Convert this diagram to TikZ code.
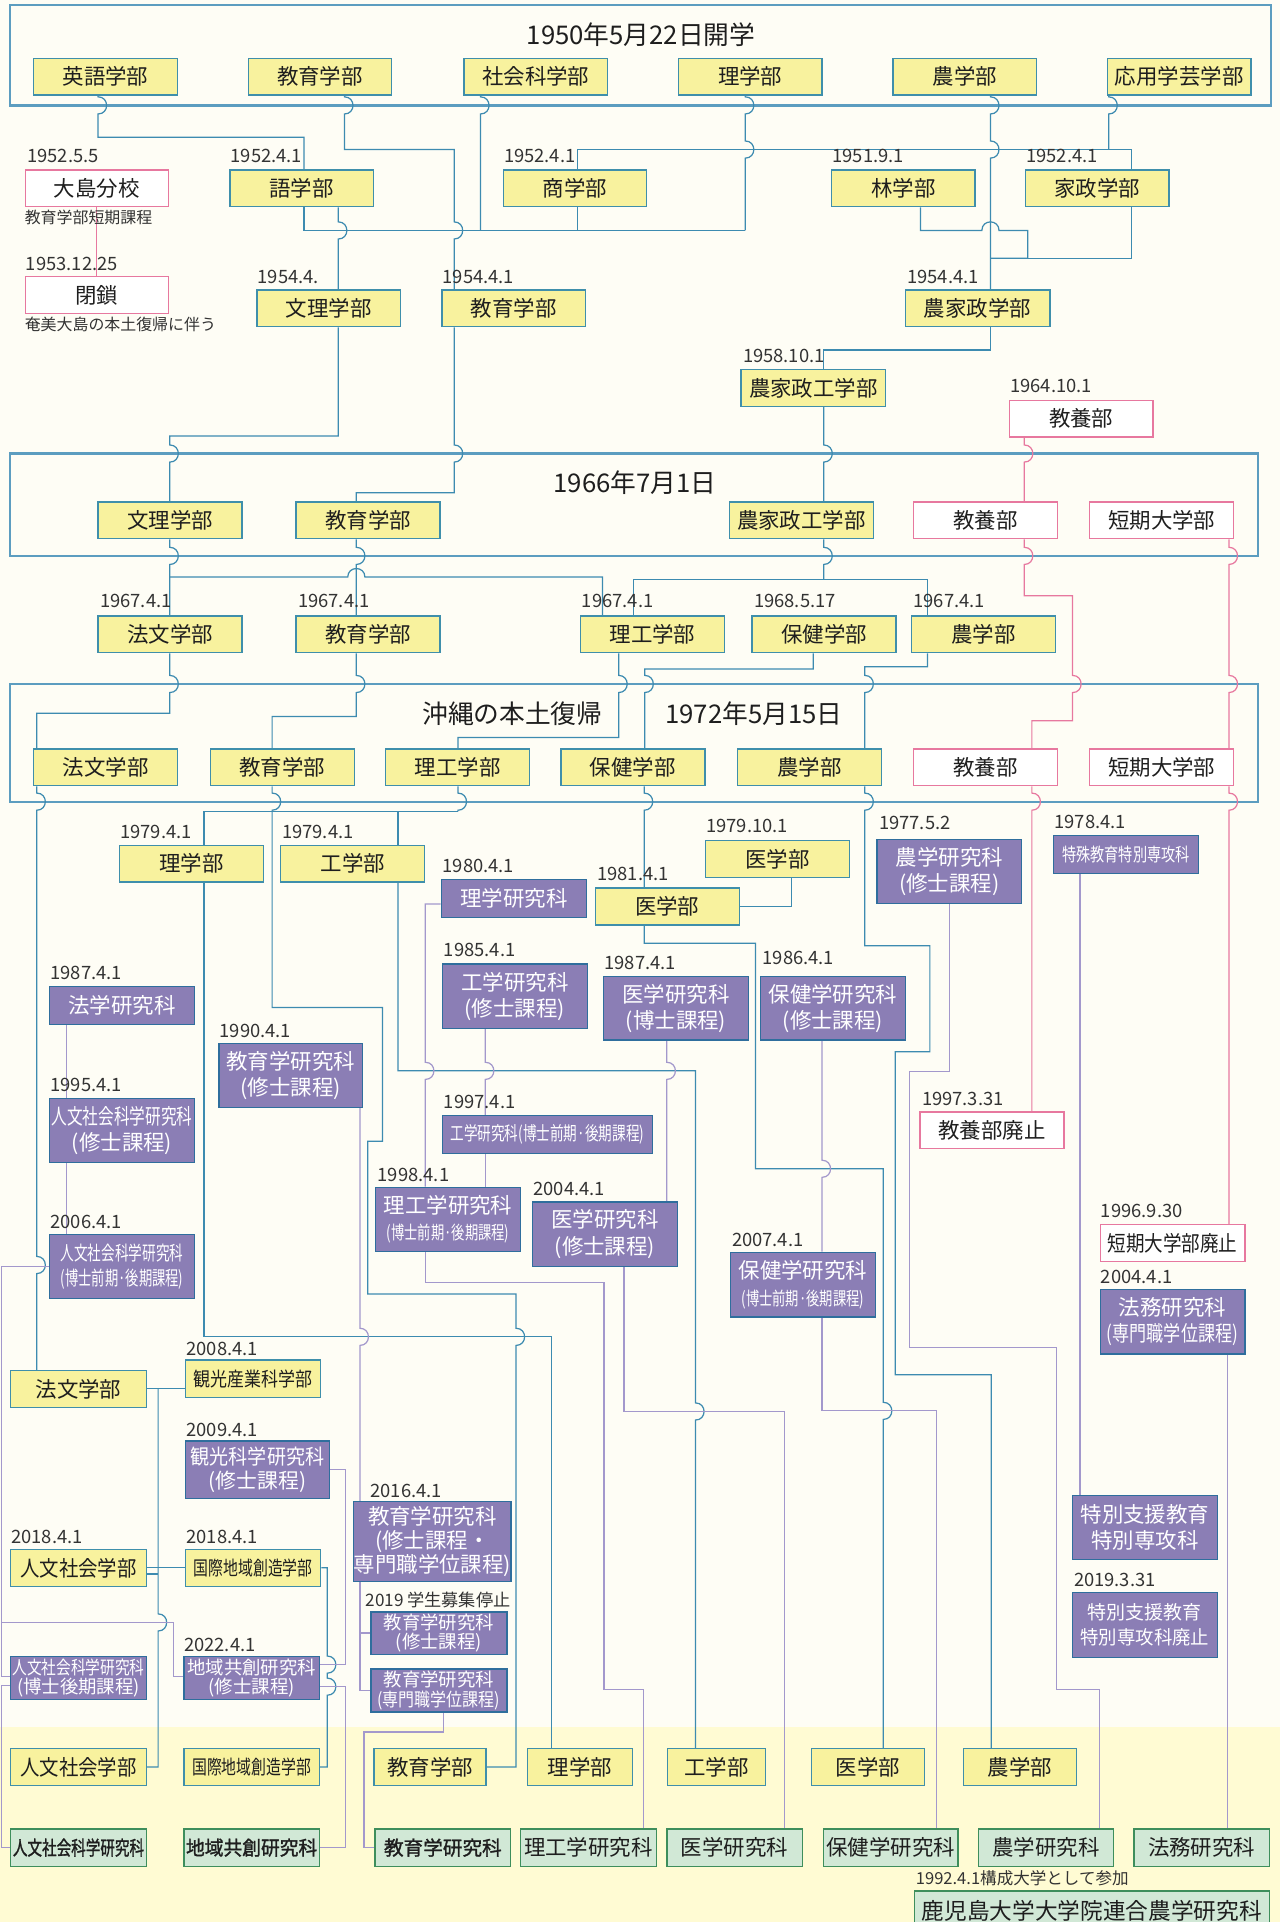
\documentclass[tikz,border=0pt]{standalone}
\usepackage{fontspec}
\usepackage{graphicx}
\setmainfont{Noto Sans CJK JP}
\newfontfamily\jpb[FakeBold=1.5]{Noto Sans CJK JP}
\pgfdeclarelayer{back}
\pgfdeclarelayer{mid}
\pgfsetlayers{back,mid,main}
\definecolor{bgc}{HTML}{FEFDF5}
\definecolor{bandc}{HTML}{FFFBD3}
\definecolor{framec}{HTML}{5C9DC0}
\definecolor{linec}{HTML}{3D8BB0}
\definecolor{yfill}{HTML}{F8F29E}
\definecolor{yborder}{HTML}{3F8FAB}
\definecolor{pfill}{HTML}{8B7EB5}
\definecolor{pborder}{HTML}{2F6E9D}
\definecolor{pinkc}{HTML}{E7789F}
\definecolor{plinec}{HTML}{A398CC}
\definecolor{gfill}{HTML}{D1E8D6}
\definecolor{gborder}{HTML}{3E8E5C}
\definecolor{txt}{HTML}{1E1E1E}
\newsavebox\fitbox
\newcommand\fitw[2]{\sbox\fitbox{#2}\ifdim\wd\fitbox>#1pt\relax\resizebox{#1pt}{\height}{\usebox\fitbox}\else\usebox\fitbox\fi}
\newcommand\VHop[2]{-- (#1,#2-7) .. controls (#1+9.3,#2-7) and (#1+9.3,#2+7) .. (#1,#2+7)}
\newcommand\HHop[2]{-- (#1-7,#2) .. controls (#1-7,#2-9.3) and (#1+7,#2-9.3) .. (#1+7,#2)}
\tikzset{
 bxs/.style={anchor=north west, inner sep=0pt, line width=1.1pt, align=center, text=txt, font=\fontsize{17.5}{21.5}\selectfont},
 yb/.style={bxs, fill=yfill, draw=yborder},
 pb/.style={bxs, fill=pfill, draw=pborder, text=white},
 kb/.style={bxs, fill=white, draw=pinkc},
 gb/.style={bxs, fill=gfill, draw=gborder},
 wh/.style 2 args={minimum width=#1pt, minimum height=#2pt},
 lab/.style={anchor=base west, inner sep=0pt, text=black!80, font=\fontsize{15}{15}\selectfont},
 note/.style={anchor=base west, inner sep=0pt, text=black!80, font=\fontsize{13}{13}\selectfont},
 ttl/.style={inner sep=0pt, text=txt, font=\fontsize{21}{21}\selectfont},
 cb/.style={draw=linec, line width=1pt},
 cp/.style={draw=plinec, line width=1pt},
 ck/.style={draw=pinkc, line width=1pt},
 frame/.style={draw=framec, line width=1.8pt},
 sm/.style={font=\fontsize{15}{16}\selectfont},
 bf/.style={font=\jpb\fontsize{16}{18}\selectfont},
}
\begin{document}
\begin{tikzpicture}[x=1pt,y=-1pt]
\useasboundingbox (0,0) rectangle (1044,1568);
\begin{pgfonlayer}{back}
\fill[bgc] (0,0) rectangle (1044,1568);
\fill[bandc] (0,1409) rectangle (1044,1568);
\draw[frame] (8,4) rectangle (1037,86);
\draw[frame] (8,370) rectangle (1026,453.5);
\draw[frame] (8,558) rectangle (1026,654);
\end{pgfonlayer}

% ---------- 1950 ----------
\node[ttl] (t1) at (523,28) {1950年5月22日開学};
\node[yb,wh={117}{30}] (eigo) at (27,47) {英語学部};
\node[yb,wh={117}{30}] (kyoiku1) at (202,47) {教育学部};
\node[yb,wh={117}{30}] (shakai) at (378,47) {社会科学部};
\node[yb,wh={117}{30}] (rigaku1) at (553,47) {理学部};
\node[yb,wh={117}{30}] (nogaku1) at (728,47) {農学部};
\node[yb,wh={117}{30}] (oyo) at (903,47) {応用学芸学部};

% ---------- 1951-1958 ----------
\node[kb,wh={117}{30}] (oshima) at (20,138) {大島分校};
\node[yb,wh={117}{30}] (gogaku) at (187,138) {語学部};
\node[yb,wh={117}{30}] (shogaku) at (410,138) {商学部};
\node[yb,wh={117}{30}] (ringaku) at (678,138) {林学部};
\node[yb,wh={117}{30}] (kasei) at (836,138) {家政学部};
\node[lab] (la1) at (22,132.5) {1952.5.5};
\node[lab] (la2) at (188,132.5) {1952.4.1};
\node[lab] (la3) at (411,132.5) {1952.4.1};
\node[lab] (la4) at (679,132.5) {1951.9.1};
\node[lab] (la5) at (837,132.5) {1952.4.1};
\node[note] (n1) at (20,182) {教育学部短期課程};

\node[kb,wh={117}{30}] (heisa) at (20,225) {閉鎖};
\node[yb,wh={117}{30}] (bunri1) at (209,236) {文理学部};
\node[yb,wh={117}{30}] (kyoiku2) at (360,236) {教育学部};
\node[yb,wh={118}{30}] (nokasei) at (738,236) {農家政学部};
\node[lab] (la6) at (21,220.5) {1953.12.25};
\node[lab] (la7) at (210,231.5) {1954.4.};
\node[lab] (la8) at (361,231.5) {1954.4.1};
\node[lab] (la9) at (740,231.5) {1954.4.1};
\node[note] (n2) at (20,270) {奄美大島の本土復帰に伴う};

\node[yb,wh={118}{30}] (nokaseiko) at (604,301) {農家政工学部};
\node[kb,wh={117}{30}] (kyoyo1) at (823,326) {教養部};
\node[lab] (la10) at (606,296) {1958.10.1};
\node[lab] (la11) at (824,320.5) {1964.10.1};

% ---------- 1966 ----------
\node[ttl] (t2) at (518,394) {1966年7月1日};
\node[yb,wh={117.5}{30}] (bunri2) at (79.5,409) {文理学部};
\node[yb,wh={117.5}{30}] (kyoiku3) at (241,409) {教育学部};
\node[yb,wh={117.5}{30}] (nokaseiko2) at (594.5,409) {農家政工学部};
\node[kb,wh={117.5}{30}] (kyoyo2) at (744.5,409) {教養部};
\node[kb,wh={117.5}{30}] (tanki1) at (888.5,409) {短期大学部};

% ---------- 1967 ----------
\node[yb,wh={117.5}{30}] (hobun1) at (79.5,502) {法文学部};
\node[yb,wh={117.5}{30}] (kyoiku4) at (241,502) {教育学部};
\node[yb,wh={117.5}{30}] (riko1) at (473,502) {理工学部};
\node[yb,wh={117.5}{30}] (hoken1) at (613,502) {保健学部};
\node[yb,wh={117.5}{30}] (nogaku2) at (743,502) {農学部};
\node[lab] (la12) at (81.5,496) {1967.4.1};
\node[lab] (la13) at (243,496) {1967.4.1};
\node[lab] (la14) at (474.5,496) {1967.4.1};
\node[lab] (la15) at (615,496) {1968.5.17};
\node[lab] (la16) at (745,496) {1967.4.1};

% ---------- 1972 ----------
\node[ttl] (t3) at (418,582) {沖縄の本土復帰};
\node[ttl] (t4) at (615,582) {1972年5月15日};
\node[yb,wh={117.5}{30}] (hobun2) at (27,610.5) {法文学部};
\node[yb,wh={117.5}{30}] (kyoiku5) at (171,610.5) {教育学部};
\node[yb,wh={117.5}{30}] (riko2) at (314,610.5) {理工学部};
\node[yb,wh={117.5}{30}] (hoken2) at (457,610.5) {保健学部};
\node[yb,wh={117.5}{30}] (nogaku3) at (601,610.5) {農学部};
\node[kb,wh={117.5}{30}] (kyoyo3) at (744.5,610.5) {教養部};
\node[kb,wh={117.5}{30}] (tanki2) at (888.5,610.5) {短期大学部};

% ---------- after 1972 ----------
\node[yb,wh={117.5}{30}] (rigaku2) at (97,689) {理学部};
\node[yb,wh={117.5}{30}] (kogaku1) at (228.5,689) {工学部};
\node[pb,wh={118.5}{31}] (rigakuken) at (359.5,717) {理学研究科};
\node[yb,wh={117.5}{30.5}] (igaku1) at (575,685) {医学部};
\node[yb,wh={117.5}{30}] (igaku2) at (485,724) {医学部};
\node[pb,wh={118}{52}] (nogakuken) at (715,684.5) {農学研究科\\(修士課程)};
\node[pb,wh={118}{31},sm] (tokushu) at (859,681) {\fitw{104}{特殊教育特別専攻科}};
\node[lab] (la17) at (98,684) {1979.4.1};
\node[lab] (la18) at (230,684) {1979.4.1};
\node[lab] (la19) at (361,712) {1980.4.1};
\node[lab] (la20) at (576,679.5) {1979.10.1};
\node[lab] (la21) at (487,718.5) {1981.4.1};
\node[lab] (la22) at (717,677) {1977.5.2};
\node[lab] (la23) at (860,676) {1978.4.1};

\node[pb,wh={118}{31}] (hogakuken) at (40,804) {法学研究科};
\node[pb,wh={118}{52.5}] (kogakuken1) at (360.5,786) {工学研究科\\(修士課程)};
\node[pb,wh={118}{52}] (igakuken1) at (492,796) {医学研究科\\(博士課程)};
\node[pb,wh={118}{52}] (hokenken1) at (620,796) {保健学研究科\\(修士課程)};
\node[pb,wh={117}{52}] (kyoikuken1) at (178,851) {教育学研究科\\(修士課程)};
\node[pb,wh={118}{52.5}] (jinbunken1) at (40,895.5) {\fitw{115}{人文社会科学研究科}\\(修士課程)};
\node[pb,wh={171}{31},font=\fontsize{15.5}{17}\selectfont] (kogakuken2) at (360.5,909.5) {\fitw{158}{工学研究科(博士前期·後期課程)}};
\node[kb,wh={117.5}{30}] (kyoyohaishi) at (750,906.5) {教養部廃止};
\node[lab] (la24) at (41,799) {1987.4.1};
\node[lab] (la25) at (362,780.5) {1985.4.1};
\node[lab] (la26) at (493,791) {1987.4.1};
\node[lab] (la27) at (622,786.5) {1986.4.1};
\node[lab] (la28) at (179,846) {1990.4.1};
\node[lab] (la29) at (41,890.5) {1995.4.1};
\node[lab] (la30) at (362,904.5) {1997.4.1};
\node[lab] (la31) at (752,901.5) {1997.3.31};

\node[pb,wh={118}{52.5}] (rikoken) at (306,968) {理工学研究科\\{\fontsize{15}{16}\selectfont\fitw{100}{(博士前期·後期課程)}}};
\node[pb,wh={118}{52.5}] (igakuken2) at (434,980) {医学研究科\\(修士課程)};
\node[pb,wh={118}{53}] (hokenken2) at (595.5,1021) {保健学研究科\\{\fontsize{15}{16}\selectfont\fitw{100}{(博士前期·後期課程)}}};
\node[kb,wh={118}{30}] (tankihaishi) at (897,998.5) {\fitw{106}{短期大学部廃止}};
\node[pb,wh={118}{52.5}] (homuken) at (897,1051.5) {法務研究科\\\fitw{107}{(専門職学位課程)}};
\node[pb,wh={118}{52.5},font=\fontsize{16}{21}\selectfont] (jinbunken2) at (40,1006.5) {\fitw{100}{人文社会科学研究科}\\\fitw{100}{(博士前期·後期課程)}};
\node[lab] (la32) at (308,964) {1998.4.1};
\node[lab] (la33) at (435,975) {2004.4.1};
\node[lab] (la34) at (597,1016.5) {2007.4.1};
\node[lab] (la35) at (898,993.5) {1996.9.30};
\node[lab] (la36) at (898,1047) {2004.4.1};
\node[lab] (la37) at (41,1002) {2006.4.1};

\node[yb,wh={111}{30}] (hobun3) at (8,1117.5) {法文学部};
\node[yb,wh={110}{30.5},font=\fontsize{16}{18}\selectfont] (kankosangyo) at (151,1109) {\fitw{97}{観光産業科学部}};
\node[pb,wh={117}{47},font=\fontsize{17}{19}\selectfont] (kankoken) at (151,1175) {\fitw{109}{観光科学研究科}\\(修士課程)};
\node[pb,wh={119}{65},font=\fontsize{17.5}{19.5}\selectfont] (kyoikuken2) at (288,1224.5) {教育学研究科\\(修士課程・\\専門職学位課程)};
\node[yb,wh={111}{30}] (jinbun1) at (8,1263.5) {\fitw{95}{人文社会学部}};
\node[yb,wh={110}{30},font=\fontsize{16}{18}\selectfont] (kokusai1) at (151,1263.5) {\fitw{97}{国際地域創造学部}};
\node[lab] (la38) at (152,1106) {2008.4.1};
\node[lab] (la39) at (152,1171.5) {2009.4.1};
\node[lab] (la40) at (302,1221.5) {2016.4.1};
\node[lab] (la41) at (9,1259.5) {2018.4.1};
\node[lab] (la42) at (152,1259.5) {2018.4.1};
\node[lab,font=\fontsize{14}{14}\selectfont] (n3) at (298,1310.5) {2019 学生募集停止};

\node[pb,wh={111}{34.5},sm] (kyoikuken3) at (302,1314.5) {教育学研究科\\(修士課程)};
\node[pb,wh={111}{35},sm] (kyoikuken4) at (302,1361) {教育学研究科\\\fitw{100}{(専門職学位課程)}};
\node[pb,wh={111}{35},sm] (jinbunken3) at (8,1351) {\fitw{108}{人文社会科学研究科}\\(博士後期課程)};
\node[pb,wh={110.5}{35},sm] (chiikiken) at (149.5,1351) {\fitw{107}{地域共創研究科}\\(修士課程)};
\node[lab] (la43) at (150,1347.5) {2022.4.1};

\node[pb,wh={118}{52}] (tokubetsu) at (874.5,1219.5) {特別支援教育\\特別専攻科};
\node[pb,wh={118}{53},font=\fontsize{15.5}{21}\selectfont] (tokubetsuhaishi) at (874.5,1298.5) {特別支援教育\\\fitw{105}{特別専攻科廃止}};
\node[lab] (la44) at (876,1294) {2019.3.31};

% ---------- current ----------
\node[yb,wh={111}{30}] (jinbun2) at (8,1426) {\fitw{95}{人文社会学部}};
\node[yb,wh={110.5}{30},font=\fontsize{16}{18}\selectfont] (kokusai2) at (149.5,1426) {\fitw{97}{国際地域創造学部}};
\node[yb,wh={91.5}{30}] (kyoiku6) at (304.5,1426) {教育学部};
\node[yb,wh={85.5}{30}] (rigaku3) at (430,1426) {理学部};
\node[yb,wh={80}{30}] (kogaku2) at (544,1426) {工学部};
\node[yb,wh={92}{30}] (igaku3) at (661.5,1426) {医学部};
\node[yb,wh={92}{30}] (nogaku4) at (785.5,1426) {農学部};

\node[gb,wh={111}{30.5},bf] (jinbunkenG) at (8,1491.5) {\fitw{107}{人文社会科学研究科}};
\node[gb,wh={110.5}{30.5},bf] (chiikikenG) at (149.5,1491.5) {\fitw{107}{地域共創研究科}};
\node[gb,wh={110.5}{30.5},bf] (kyoikukenG) at (305.5,1491.5) {教育学研究科};
\node[gb,wh={111}{30.5}] (rikokenG) at (424,1491.5) {理工学研究科};
\node[gb,wh={110.5}{30.5}] (igakukenG) at (543.5,1491.5) {医学研究科};
\node[gb,wh={110}{30.5}] (hokenkenG) at (671,1491.5) {保健学研究科};
\node[gb,wh={110.5}{30.5}] (nogakukenG) at (797.5,1491.5) {農学研究科};
\node[gb,wh={110.5}{30.5}] (homukenG) at (924.5,1491.5) {法務研究科};
\node[note,font=\fontsize{13.5}{13.5}\selectfont] (n4) at (747,1537) {1992.4.1構成大学として参加};
\node[gb,wh={289.5}{33},font=\fontsize{18.5}{20}\selectfont] (rengo) at (745.5,1542) {鹿児島大学大学院連合農学研究科};

% ---------- connectors ----------
\begin{pgfonlayer}{mid}
% blue, 1950-1958
\draw[cb] (80,0 |- eigo.south) \VHop{80}{86} -- (80,112) -- (248,112) -- (248,0 |- gogaku.north);
\draw[cb] (281,0 |- kyoiku1.south) \VHop{281}{86} -- (281,122) -- (370.5,122) \VHop{370.5}{188} -- (370.5,0 |- kyoiku2.north);
\draw[cb] (392,0 |- shakai.south) \VHop{392}{86} -- (392,188);
\draw[cb] (248,0 |- gogaku.south) -- (248,188) -- (608,188);
\draw[cb] (471,0 |- shogaku.south) -- (471,188);
\draw[cb] (471,0 |- shogaku.north) -- (471,122) -- (923,122) -- (923,0 |- kasei.north);
\draw[cb] (904.5,0 |- oyo.south) \VHop{904.5}{86} -- (904.5,122);
\draw[cb] (608,0 |- rigaku1.south) \VHop{608}{86} \VHop{608}{122} -- (608,188);
\draw[cb] (276,0 |- gogaku.south) \VHop{276}{188} -- (276,0 |- bunri1.north);
\draw[cb] (808,0 |- nogaku1.south) \VHop{808}{86} \VHop{808}{122} -- (808,0 |- nokasei.north);
\draw[cb] (751,0 |- ringaku.south) -- (751,188) \HHop{808}{188} -- (838.5,188) -- (838.5,210.7) -- (808,210.7);
\draw[cb] (923,0 |- kasei.south) -- (923,210.7) -- (808,210.7);
\draw[cb] (808,0 |- nokasei.south) -- (808,285.5) -- (672,285.5) -- (672,0 |- nokaseiko.north);
% to 1966
\draw[cb] (276,0 |- bunri1.south) -- (276,355.7) -- (138.5,355.7) \VHop{138.5}{370} -- (138.5,0 |- bunri2.north);
\draw[cb] (370.5,0 |- kyoiku2.south) \VHop{370.5}{370} -- (370.5,402) -- (290.7,402) -- (290.7,0 |- kyoiku3.north);
\draw[cb] (672,0 |- nokaseiko.south) \VHop{672}{370} -- (672,0 |- nokaseiko2.north);
% to 1967
\draw[cb] (138.5,0 |- bunri2.south) \VHop{138.5}{453.5} -- (138.5,0 |- hobun1.north);
\draw[cb] (138.5,470.8) \HHop{290.7}{470.8} -- (491.6,470.8) -- (491.6,0 |- riko1.north);
\draw[cb] (290.7,0 |- kyoiku3.south) \VHop{290.7}{453.5} -- (290.7,0 |- kyoiku4.north);
\draw[cb] (672,0 |- nokaseiko2.south) \VHop{672}{453.5} -- (672,473);
\draw[cb] (516.7,0 |- riko1.north) -- (516.7,473) -- (756.7,473) -- (756.7,0 |- nogaku2.north);
% to 1972
\draw[cb] (138.5,0 |- hobun1.south) \VHop{138.5}{558} -- (138.5,581.8) -- (30,581.8) -- (30,0 |- hobun2.north);
\draw[cb] (290.7,0 |- kyoiku4.south) \VHop{290.7}{558} -- (290.7,584.5) -- (222,584.5) -- (222,0 |- kyoiku5.north);
\draw[cb] (504.7,0 |- riko1.south) \VHop{504.7}{558} -- (504.7,601.7) -- (373.6,601.7) -- (373.6,0 |- riko2.north);
\draw[cb] (663.5,0 |- hoken1.south) -- (663.5,545.7) -- (526,545.7) \VHop{526}{558} -- (526,0 |- hoken2.north);
\draw[cb] (756.7,0 |- nogaku2.south) -- (756.7,544) -- (705.5,544) \VHop{705.5}{558} -- (705.5,0 |- nogaku3.north);
% after 1972
\draw[cb] (30,0 |- hobun2.south) \VHop{30}{654} \VHop{30}{1032} -- (30,0 |- hobun3.north);
\draw[cb] (222,0 |- kyoiku5.south) \VHop{222}{654} -- (222,822) -- (312,822) -- (312,931) -- (300,931) -- (300,1055.6) -- (421,1055.6) \VHop{421}{1090.6} -- (421,0 |- kyoiku6.east) -- (kyoiku6.east);
\draw[cb] (373.6,0 |- riko2.south) \VHop{373.6}{654} -- (373.6,662);
\draw[cb] (166.5,0 |- rigaku2.north) -- (166.5,662) -- (373.6,662);
\draw[cb] (324.6,662) -- (324.6,0 |- kogaku1.north);
\draw[cb] (166.5,0 |- rigaku2.south) -- (166.5,1090.6) -- (450,1090.6) -- (450,0 |- rigaku3.north);
\draw[cb] (324.6,0 |- kogaku1.south) -- (324.6,873.6) -- (567.4,873.6) \VHop{567.4}{1151.5} -- (567.4,0 |- kogaku2.north);
\draw[cb] (525.5,0 |- hoken2.south) \VHop{525.5}{654} -- (525.5,0 |- igaku2.north);
\draw[cb] (646,0 |- igaku1.south) |- (igaku2.east);
\draw[cb] (525.5,0 |- igaku2.south) -- (525.5,769.5) -- (616.4,769.5) -- (616.4,953.5) -- (720.6,953.5) \VHop{720.6}{1151} -- (720.6,0 |- igaku3.north);
\draw[cb] (705.5,0 |- nogaku3.south) \VHop{705.5}{654} -- (705.5,771.6) -- (758.6,771.6) -- (758.6,858) -- (730.4,858) -- (730.4,1121.6) -- (808.6,1121.6) -- (808.6,0 |- nogaku4.north);
\draw[cb] (hobun3.east) -- (kankosangyo.west |- hobun3.east);
\draw[cb] (129,0 |- hobun3.east) \VHop{129}{1323.6} -- (129,0 |- jinbun2.east) -- (jinbun2.east);
\draw[cb] (jinbun1.east) -- (kokusai1.west);
\draw[cb] (jinbun1.east |- 0,1284) -- (129,1284);
\draw[cb] (kokusai1.east) -- (267,0 |- kokusai1.east) \VHop{267}{1358} \VHop{267}{1376} -- (267,0 |- kokusai2.east) -- (kokusai2.east);
% pink
\draw[ck] (79,0 |- oshima.south) -- (79,0 |- heisa.north);
\draw[ck] (835.6,0 |- kyoyo1.south) \VHop{835.6}{370} -- (835.6,0 |- kyoyo2.north);
\draw[ck] (835.6,0 |- kyoyo2.south) \VHop{835.6}{453.5} -- (835.6,486) -- (875,486) \VHop{875}{558} -- (875,588) -- (841.8,588) -- (841.8,0 |- kyoyo3.north);
\draw[ck] (1002.6,0 |- tanki1.south) \VHop{1002.6}{453.5} \VHop{1002.6}{558} -- (1002.6,0 |- tanki2.north);
\draw[ck] (841.8,0 |- kyoyo3.south) \VHop{841.8}{654} -- (841.8,0 |- kyoyohaishi.north);
\draw[ck] (1002.6,0 |- tanki2.south) \VHop{1002.6}{654} -- (1002.6,0 |- tankihaishi.north);
% purple
\draw[cp] (rigakuken.west |- 0,737.5) -- (347,737.5) \VHop{347}{873.6} -- (347,0 |- rikoken.north);
\draw[cp] (395.9,0 |- kogakuken1.south) \VHop{395.9}{873.6} -- (395.9,0 |- kogakuken2.north);
\draw[cp] (395.9,0 |- kogakuken2.south) -- (395.9,0 |- rikoken.north);
\draw[cp] (347,0 |- rikoken.south) -- (347,1046.5) -- (492.7,1046.5) -- (492.7,1378) -- (525,1378) -- (525,0 |- rikokenG.north);
\draw[cp] (544,0 |- igakuken1.south) \VHop{544}{873.6} -- (544,0 |- igakuken2.north);
\draw[cp] (509,0 |- igakuken2.south) -- (509,1151.5) -- (640,1151.5) -- (640,0 |- igakukenG.north);
\draw[cp] (670.6,0 |- hokenken1.south) \VHop{670.6}{953.5} -- (670.6,0 |- hokenken2.north);
\draw[cp] (670.6,0 |- hokenken2.south) -- (670.6,1151) -- (764,1151) -- (764,0 |- hokenkenG.north);
\draw[cp] (774.4,0 |- nogakuken.south) -- (774.4,874.4) -- (741.8,874.4) -- (741.8,1099.5) -- (862,1099.5) -- (862,1378) -- (897,1378) -- (897,0 |- nogakukenG.north);
\draw[cp] (881,0 |- tokushu.south) -- (881,0 |- tokubetsu.north);
\draw[cp] (1001.5,0 |- homuken.south) -- (1001.5,0 |- homukenG.north);
\draw[cp] (54,0 |- hogakuken.south) -- (54,0 |- jinbunken1.north);
\draw[cp] (54,0 |- jinbunken1.south) -- (54,0 |- jinbunken2.north);
\draw[cp] (jinbunken2.west) -- (1.5,0 |- jinbunken2.west) -- (1.5,1367.6) -- (jinbunken3.west |- 0,1367.6);
\draw[cp] (1.5,1323.6) -- (141.5,1323.6) -- (141.5,1367.6) -- (chiikiken.west |- 0,1367.6);
\draw[cp] (jinbunken3.west |- 0,1375) -- (1.5,1375) -- (1.5,0 |- jinbunkenG.west) -- (jinbunkenG.west);
\draw[cp] (kankoken.east) -- (282,0 |- kankoken.east) -- (282,1358) -- (chiikiken.east |- 0,1358);
\draw[cp] (chiikiken.east |- 0,1376) -- (282,1376) -- (282,0 |- chiikikenG.east) -- (chiikikenG.east);
\draw[cp] (293.6,0 |- kyoikuken1.south) \VHop{293.6}{1090.6} -- (293.6,0 |- kyoikuken2.north);
\draw[cp] (293.6,0 |- kyoikuken2.south) -- (293.6,0 |- kyoikuken4.west) -- (kyoikuken4.west);
\draw[cp] (293.6,0 |- kyoikuken3.west) -- (kyoikuken3.west);
\draw[cp] (362,0 |- kyoikuken4.south) -- (362,1413) -- (297,1413) -- (297,0 |- kyoikukenG.west) -- (kyoikukenG.west);
\end{pgfonlayer}
\end{tikzpicture}
\end{document}
